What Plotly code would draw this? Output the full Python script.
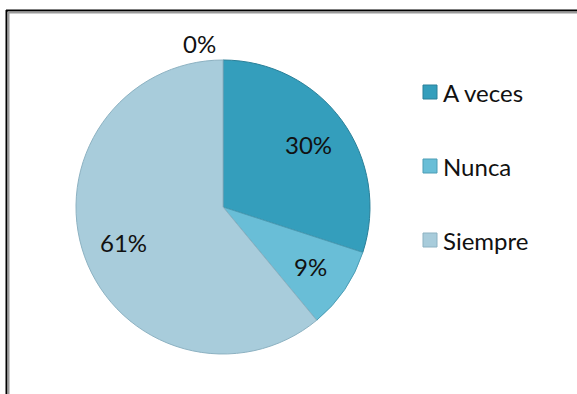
import math
import plotly.graph_objects as go

# Survey answers and their shares
categories = ["A veces", "Nunca", "Siempre"]
values = [30, 9, 61]
colors = ["#349EBC", "#69BED7", "#A8CCDB"]
edge_colors = ["#2A8099", "#4C9DB5", "#8DB2C2"]

# Category with no answers, labelled at the start of the circle
empty_value = 0

W, H = 577, 394
FONT = "Lato"
FONT_SIZE = 24
TEXT_COLOR = "#111111"


def px_x(x):
    return x / W


def px_y(y):
    return 1 - y / H


# Pie geometry in pixels
cx, cy, r = 223, 207, 147
label_radius = 0.72 * r

fig = go.Figure()
fig.add_trace(go.Pie(
    labels=categories,
    values=values,
    sort=False,
    direction="clockwise",
    rotation=0,
    marker=dict(colors=colors, line=dict(color=edge_colors, width=1)),
    textinfo="none",
    showlegend=False,
    hoverinfo="label+percent",
    domain=dict(x=[px_x(cx - r), px_x(cx + r)], y=[px_y(cy + r), px_y(cy - r)]),
))

total = sum(values) + empty_value
annotations = [dict(
    x=px_x(199), y=px_y(43), xref="paper", yref="paper",
    text=f"{round(100 * empty_value / total)}%", showarrow=False,
    font=dict(family=FONT, size=FONT_SIZE, color=TEXT_COLOR),
    xanchor="center", yanchor="middle",
)]

# Percentage labels along each slice's bisector, clockwise from 12 o'clock
start = 0.0
for v in values:
    frac = v / total
    mid = 2 * math.pi * (start + frac / 2)
    lx = cx + label_radius * math.sin(mid)
    ly = cy - label_radius * math.cos(mid)
    annotations.append(dict(
        x=px_x(lx), y=px_y(ly), xref="paper", yref="paper",
        text=f"{round(100 * frac)}%", showarrow=False,
        font=dict(family=FONT, size=FONT_SIZE, color=TEXT_COLOR),
        xanchor="center", yanchor="middle",
    ))
    start += frac

shapes = []
# Legend swatches and labels
legend_y = [92, 166, 240]
for name, col, edge, ly in zip(categories, colors, edge_colors, legend_y):
    shapes.append(dict(
        type="rect", xref="paper", yref="paper",
        x0=px_x(423), x1=px_x(437), y0=px_y(ly + 7), y1=px_y(ly - 7),
        fillcolor=col, line=dict(color=edge, width=1),
    ))
    annotations.append(dict(
        x=px_x(441), y=px_y(ly), xref="paper", yref="paper",
        text=name, showarrow=False, xanchor="left", yanchor="middle",
        font=dict(family=FONT, size=FONT_SIZE, color=TEXT_COLOR),
    ))

# Frame: dark edge with a soft grey inner line on the top and left
shapes += [
    dict(type="line", xref="paper", yref="paper", x0=px_x(6), x1=1.0,
         y0=px_y(10.5), y1=px_y(10.5), line=dict(color="#000000", width=2)),
    dict(type="line", xref="paper", yref="paper", x0=px_x(6.5), x1=px_x(6.5),
         y0=px_y(10), y1=0, line=dict(color="#000000", width=2)),
    dict(type="line", xref="paper", yref="paper", x0=px_x(8), x1=1.0,
         y0=px_y(12.5), y1=px_y(12.5), line=dict(color="#9a9a9a", width=2)),
    dict(type="line", xref="paper", yref="paper", x0=px_x(8.5), x1=px_x(8.5),
         y0=px_y(12), y1=0, line=dict(color="#9a9a9a", width=2)),
]

fig.update_layout(
    width=W, height=H,
    margin=dict(l=0, r=0, t=0, b=0),
    paper_bgcolor="white",
    plot_bgcolor="white",
    shapes=shapes,
    annotations=annotations,
)

fig.write_html("out.html")
